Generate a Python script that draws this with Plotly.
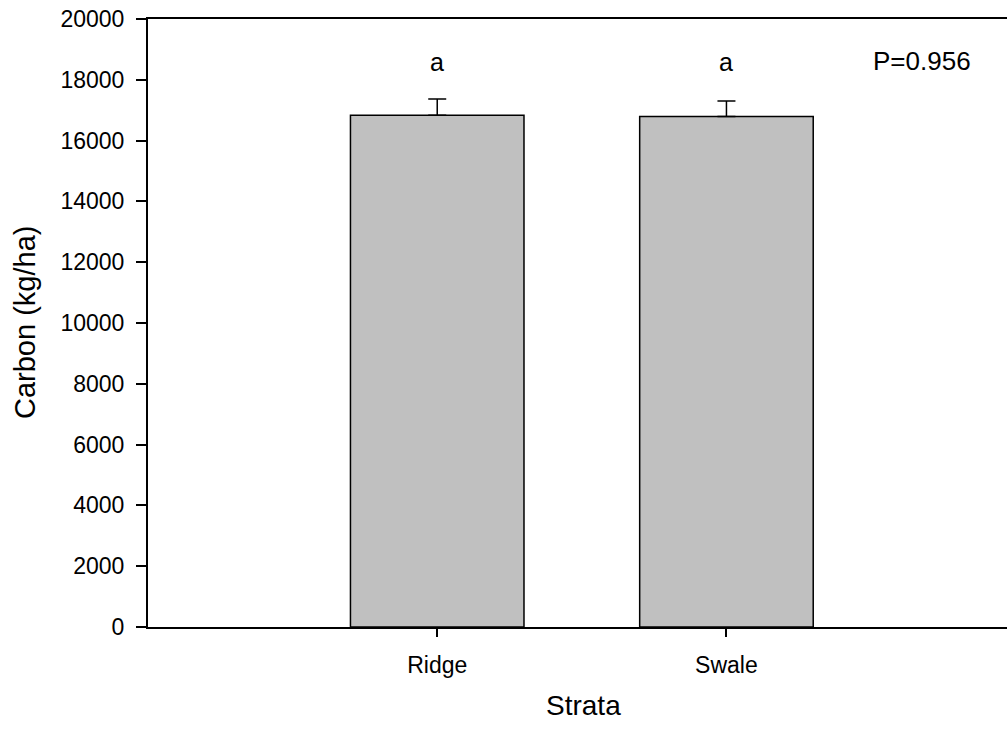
import plotly.graph_objects as go

strata = ["Ridge", "Swale"]
carbon = [16830, 16790]
carbon_se = [540, 515]
letters = ["a", "a"]
y_ticks = [0, 2000, 4000, 6000, 8000, 10000, 12000, 14000, 16000, 18000, 20000]
p_text = "P=0.956"

FONT = "Liberation Sans, Arial, sans-serif"

fig = go.Figure()
fig.add_trace(go.Bar(
    x=strata, y=carbon, width=0.6,
    marker=dict(color="#c0c0c0", line=dict(color="black", width=1.5)),
    error_y=dict(type="data", array=carbon_se, arrayminus=[0, 0], symmetric=False,
                 color="black", thickness=1.5, width=9),
    showlegend=False,
))

for s, l in zip(strata, letters):
    fig.add_annotation(x=s, y=18600, text=l, showarrow=False,
                       font=dict(family=FONT, size=25, color="black"),
                       xanchor="center", yanchor="middle")

fig.add_annotation(x=(922 - 148) / 859, y=(627 - 61) / 608, xref="paper", yref="paper",
                   text=p_text, showarrow=False,
                   font=dict(family=FONT, size=26, color="black"),
                   xanchor="center", yanchor="middle")

fig.add_annotation(x=(583 - 148) / 859, y=-(705 - 627) / 608, xref="paper", yref="paper",
                   text="Strata", showarrow=False,
                   font=dict(family=FONT, size=28, color="black"),
                   xanchor="center", yanchor="middle")
fig.add_annotation(x=-(148 - 25) / 859, y=(627 - 323) / 608, xref="paper", yref="paper",
                   text="Carbon (kg/ha)", showarrow=False, textangle=-90,
                   font=dict(family=FONT, size=29, color="black"),
                   xanchor="center", yanchor="middle")

fig.update_layout(
    width=1007, height=730,
    margin=dict(l=148, r=0, t=19, b=103),
    plot_bgcolor="white", paper_bgcolor="white",
    font=dict(family=FONT, size=22, color="black"),
    bargap=0.4,
)
fig.update_xaxes(
    range=[-1, 1.97], showline=True, linecolor="black", linewidth=2, mirror=True,
    ticks="outside", ticklen=8, tickwidth=1.5, tickcolor="black",
    tickfont=dict(family=FONT, size=23), ticklabelstandoff=8,
    showgrid=False, zeroline=False,
)
fig.update_yaxes(
    range=[0, 20000], tickvals=y_ticks, ticktext=[str(v) for v in y_ticks],
    showline=True, linecolor="black", linewidth=2,
    ticks="outside", ticklen=10, tickwidth=1.5, tickcolor="black",
    tickfont=dict(family=FONT, size=23), ticklabelstandoff=7,
    showgrid=False, zeroline=False,
)

fig.write_html("out.html")
